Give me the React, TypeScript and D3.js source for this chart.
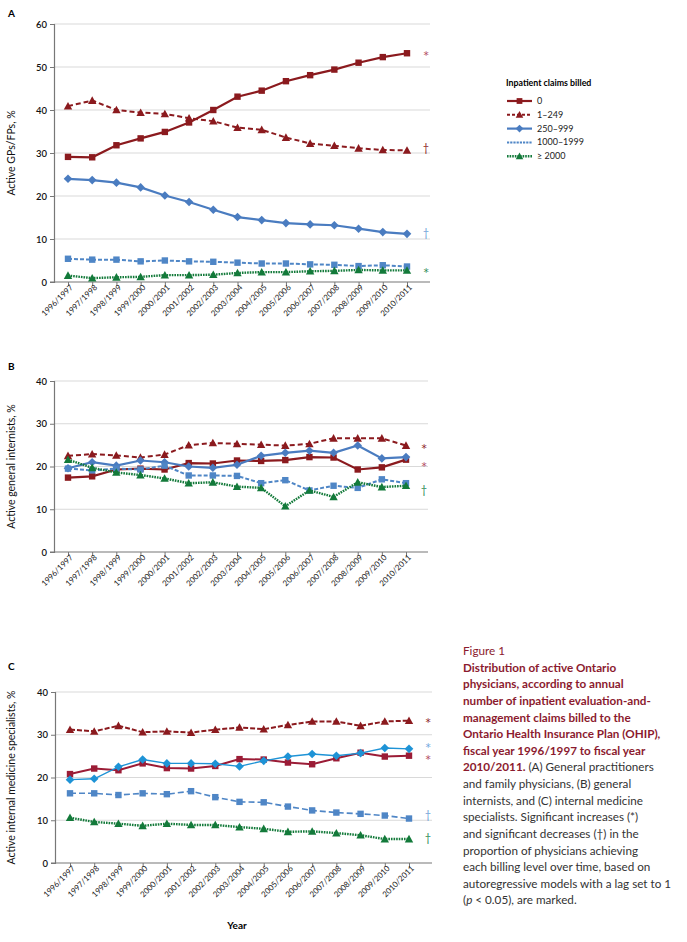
import * as d3 from "d3";
import React, { useEffect, useRef } from "react";

const years = [
  "1996/1997", "1997/1998", "1998/1999", "1999/2000", "2000/2001",
  "2001/2002", "2002/2003", "2003/2004", "2004/2005", "2005/2006",
  "2006/2007", "2007/2008", "2008/2009", "2009/2010", "2010/2011",
];

const seriesNames = ["0", "1–249", "250–999", "1000–1999", "≥ 2000"];

// (A) GPs/FPs
const gp0 = [29.1, 29.0, 31.8, 33.4, 34.9, 37.1, 40.0, 43.1, 44.5, 46.7, 48.1, 49.4, 51.0, 52.3, 53.2];
const gp1to249 = [40.9, 42.2, 40.0, 39.4, 39.1, 38.1, 37.4, 35.9, 35.4, 33.6, 32.2, 31.7, 31.1, 30.7, 30.6];
const gp250to999 = [24.0, 23.7, 23.1, 22.0, 20.1, 18.6, 16.8, 15.1, 14.4, 13.7, 13.4, 13.2, 12.4, 11.6, 11.2];
const gp1000to1999 = [5.4, 5.2, 5.2, 4.8, 5.0, 4.8, 4.7, 4.5, 4.3, 4.3, 4.1, 4.0, 3.7, 3.9, 3.6];
const gp2000plus = [1.5, 0.9, 1.1, 1.2, 1.6, 1.6, 1.7, 2.1, 2.3, 2.3, 2.5, 2.6, 2.8, 2.7, 2.7];

// (B) general internists
const gim0 = [17.4, 17.7, 19.3, 19.5, 19.3, 20.8, 20.7, 21.4, 21.3, 21.5, 22.2, 22.1, 19.3, 19.8, 21.6];
const gim1to249 = [22.5, 22.9, 22.6, 22.1, 22.8, 25.0, 25.5, 25.3, 25.1, 24.9, 25.3, 26.6, 26.6, 26.6, 24.9];
const gim250to999 = [19.6, 21.0, 20.2, 21.4, 21.0, 20.0, 19.7, 20.4, 22.5, 23.2, 23.7, 23.2, 24.9, 21.9, 22.2];
const gim1000to1999 = [19.5, 19.1, 19.5, 19.3, 20.2, 17.9, 17.9, 17.8, 16.1, 16.8, 14.4, 15.5, 15.0, 17.0, 16.1];
const gim2000plus = [21.6, 19.7, 18.6, 18.0, 17.2, 16.1, 16.3, 15.3, 15.0, 10.7, 14.4, 12.9, 16.3, 15.2, 15.5];

// (C) internal medicine specialists
const ims0 = [20.8, 22.1, 21.7, 23.3, 22.2, 22.1, 22.7, 24.3, 24.2, 23.5, 23.1, 24.5, 25.8, 24.9, 25.1];
const ims1to249 = [31.2, 30.8, 32.1, 30.6, 30.8, 30.5, 31.2, 31.7, 31.3, 32.3, 33.1, 33.1, 32.1, 33.1, 33.3];
const ims250to999 = [19.5, 19.7, 22.5, 24.2, 23.3, 23.3, 23.2, 22.6, 23.9, 24.9, 25.5, 25.1, 25.7, 26.9, 26.7];
const ims1000to1999 = [16.3, 16.3, 15.9, 16.3, 16.1, 16.8, 15.4, 14.3, 14.2, 13.2, 12.3, 11.8, 11.5, 11.1, 10.4];
const ims2000plus = [10.6, 9.6, 9.2, 8.7, 9.2, 8.9, 8.9, 8.4, 8.0, 7.3, 7.4, 7.0, 6.5, 5.6, 5.6];

// significance marks: [symbol, y value, series index]
const sigA: [string, number, number][] = [["*", 53.3, 0], ["†", 31.2, 1], ["†", 11.3, 2], ["*", 2.8, 4]];
const sigB: [string, number, number][] = [["*", 24.8, 1], ["*", 20.6, 0], ["†", 14.6, 4]];
const sigC: [string, number, number][] = [["*", 33.4, 1], ["*", 27.7, 2], ["*", 24.7, 0], ["†", 11.3, 3], ["†", 5.9, 4]];

const yTicksA = [0, 10, 20, 30, 40, 50, 60];
const yTicksBC = [0, 10, 20, 30, 40];

const FONT = "Lato, 'Open Sans', sans-serif";

const styleA = [
  { color: "#8b1a1e", dash: null, width: 2.2, marker: "square" },
  { color: "#8b1a1e", dash: "5,3", width: 2, marker: "triangle" },
  { color: "#4a7cc0", dash: null, width: 2.2, marker: "diamond" },
  { color: "#4f86c6", dash: "4,2", width: 2, marker: "square" },
  { color: "#137a3a", dash: "1.6,1", width: 2.4, marker: "triangle" },
];
const styleC = [
  { color: "#9b1c36", dash: null, width: 2, marker: "square" },
  { color: "#8b1a1e", dash: "5,2", width: 2, marker: "triangle" },
  { color: "#1e93d6", dash: null, width: 1.4, marker: "diamond" },
  { color: "#4f86c6", dash: "6,3", width: 1.6, marker: "square" },
  { color: "#137a3a", dash: "1.6,1", width: 2.4, marker: "triangle" },
];
const sigColors = ["#b0485e", "#8b1a1e", "#6f9fd8", "#6f9fd8", "#2b8a55"];

const panels = [
  {
    letter: "A", letterY: 17, yLabel: "Active GPs/FPs, %", yMax: 60, ticks: yTicksA,
    top: 24, bottom: 282, axisX: 54, x0: 68, x1: 407, right: 430,
    series: [gp0, gp1to249, gp250to999, gp1000to1999, gp2000plus], sig: sigA, style: styleA,
  },
  {
    letter: "B", letterY: 370, yLabel: "Active general internists, %", yMax: 40, ticks: yTicksBC,
    top: 381, bottom: 552, axisX: 54, x0: 68, x1: 406, right: 428,
    series: [gim0, gim1to249, gim250to999, gim1000to1999, gim2000plus], sig: sigB, style: styleA,
  },
  {
    letter: "C", letterY: 670, yLabel: "Active internal medicine specialists, %", yMax: 40, ticks: yTicksBC,
    top: 692, bottom: 863, axisX: 55, x0: 70, x1: 409, right: 432,
    series: [ims0, ims1to249, ims250to999, ims1000to1999, ims2000plus], sig: sigC, style: styleC,
  },
];

const captionLines: { parts: [string, string][] }[] = [
  { parts: [["Figure 1", "fig"]] },
  { parts: [["Distribution of active Ontario", "title"]] },
  { parts: [["physicians, according to annual", "title"]] },
  { parts: [["number of inpatient evaluation-and-", "title"]] },
  { parts: [["management claims billed to the", "title"]] },
  { parts: [["Ontario Health Insurance Plan (OHIP),", "title"]] },
  { parts: [["fiscal year 1996/1997 to fiscal year", "title"]] },
  { parts: [["2010/2011.", "title"], [" (A) General practitioners", "body"]] },
  { parts: [["and family physicians, (B) general", "body"]] },
  { parts: [["internists, and (C) internal medicine", "body"]] },
  { parts: [["specialists. Significant increases (*)", "body"]] },
  { parts: [["and significant decreases (†) in the", "body"]] },
  { parts: [["proportion of physicians achieving", "body"]] },
  { parts: [["each billing level over time, based on", "body"]] },
  { parts: [["autoregressive models with a lag set to 1", "body"]] },
  { parts: [["(", "body"], ["p", "italic"], [" < 0.05), are marked.", "body"]] },
];

function drawMarker(g: d3.Selection<SVGGElement, unknown, null, undefined>, kind: string, x: number, y: number, color: string, size = 1) {
  if (kind === "square") {
    const s = 6.4 * size;
    g.append("rect").attr("x", x - s / 2).attr("y", y - s / 2).attr("width", s).attr("height", s).attr("fill", color);
  } else if (kind === "triangle") {
    const s = 4.2 * size;
    g.append("path").attr("d", `M${x},${y - s}L${x + s},${y + s * 0.8}L${x - s},${y + s * 0.8}Z`).attr("fill", color);
  } else if (kind === "diamond") {
    const s = 4.3 * size;
    g.append("path").attr("d", `M${x},${y - s}L${x + s},${y}L${x},${y + s}L${x - s},${y}Z`).attr("fill", color);
  }
}

const App: React.FC = () => {
  const ref = useRef<SVGSVGElement | null>(null);

  useEffect(() => {
    const svg = d3.select(ref.current);
    svg.selectAll("*").remove();

    panels.forEach((p) => {
      const g = svg.append("g");
      const xScale = d3.scalePoint<string>().domain(years).range([p.x0, p.x1]);
      const yScale = d3.scaleLinear().domain([0, p.yMax]).range([p.bottom, p.top]);

      // gridlines
      g.selectAll(".grid")
        .data(p.ticks.filter((t) => t > 0))
        .enter()
        .append("line")
        .attr("x1", p.axisX)
        .attr("x2", p.right)
        .attr("y1", (d) => yScale(d))
        .attr("y2", (d) => yScale(d))
        .attr("stroke", "#d9d9d9")
        .attr("stroke-width", 1);

      // y axis
      const yAxis = g.append("g")
        .attr("transform", `translate(${p.axisX},0)`)
        .call(d3.axisLeft(yScale).tickValues(p.ticks).tickSize(4).tickPadding(3));
      yAxis.select(".domain").attr("stroke", "#777").attr("stroke-width", 1.2);
      yAxis.selectAll(".tick line").attr("stroke", "#777");
      yAxis.selectAll("text")
        .attr("fill", "#111")
        .style("font-family", FONT)
        .style("font-size", "9.5px")
        .style("font-weight", "600");

      // x axis
      const xAxis = g.append("g")
        .attr("transform", `translate(0,${p.bottom})`)
        .call(d3.axisBottom(xScale).tickSize(4).tickSizeOuter(0));
      xAxis.select(".domain").attr("d", `M${p.axisX - 4},0H${p.right}`).attr("stroke", "#777").attr("stroke-width", 1.2);
      xAxis.selectAll(".tick line").attr("stroke", "#777");
      xAxis.selectAll("text")
        .attr("fill", "#222")
        .attr("text-anchor", "end")
        .attr("transform", "translate(3,4) rotate(-45)")
        .attr("dy", "0.35em")
        .attr("y", 0)
        .attr("x", 0)
        .style("font-family", FONT)
        .style("font-size", "8px");

      // series lines + markers
      p.series.forEach((vals, i) => {
        const st = p.style[i];
        const line = d3.line<number>()
          .x((_, j) => xScale(years[j]) as number)
          .y((d) => yScale(d));
        g.append("path")
          .datum(vals)
          .attr("d", line)
          .attr("fill", "none")
          .attr("stroke", st.color)
          .attr("stroke-width", st.width)
          .attr("stroke-dasharray", st.dash);
        const mg = g.append("g");
        vals.forEach((v, j) => drawMarker(mg, st.marker, xScale(years[j]) as number, yScale(v), st.color));
      });

      // significance marks
      p.sig.forEach(([sym, val, si]) => {
        const isStar = sym === "*";
        g.append("text")
          .attr("x", p.right - 4)
          .attr("y", yScale(val) + (isStar ? 6 : 4))
          .attr("text-anchor", "middle")
          .attr("fill", p.letter === "C" && si === 2 ? "#6fa6e0" : sigColors[si])
          .style("font-family", isStar ? "'DejaVu Sans', sans-serif" : FONT)
          .style("font-size", isStar ? "10.5px" : "11px")
          .text(sym);
      });

      // panel letter
      svg.append("text")
        .attr("x", 8)
        .attr("y", p.letterY)
        .style("font-family", FONT)
        .style("font-size", "10px")
        .style("font-weight", "700")
        .text(p.letter);

      // y label
      svg.append("text")
        .attr("transform", `translate(15,${(p.top + p.bottom) / 2}) rotate(-90)`)
        .attr("text-anchor", "middle")
        .style("font-family", FONT)
        .style("font-size", "10.5px")
        .attr("fill", "#111")
        .text(p.yLabel);
    });

    // x title
    svg.append("text")
      .attr("x", 237)
      .attr("y", 929)
      .attr("text-anchor", "middle")
      .style("font-family", FONT)
      .style("font-size", "10px")
      .style("font-weight", "700")
      .text("Year");

    // legend
    const lg = svg.append("g").attr("transform", "translate(506,0)");
    lg.append("text")
      .attr("x", 0)
      .attr("y", 86)
      .style("font-family", FONT)
      .style("font-size", "8.8px")
      .style("font-weight", "700")
      .text("Inpatient claims billed");
    const legendMarkers = ["square", "triangle", "diamond", null, "triangle"];
    seriesNames.forEach((name, i) => {
      const y = 101 + i * 13.8;
      const st = styleA[i];
      lg.append("line")
        .attr("x1", 1).attr("x2", 26).attr("y1", y).attr("y2", y)
        .attr("stroke", st.color)
        .attr("stroke-width", st.width)
        .attr("stroke-dasharray", st.dash ? (i === 3 ? "2.2,1" : st.dash === "5,3" ? "3,2" : st.dash) : null);
      if (legendMarkers[i]) drawMarker(lg as any, legendMarkers[i] as string, 13.5, y, st.color, 0.9);
      lg.append("text")
        .attr("x", 31)
        .attr("y", y + 3)
        .style("font-family", FONT)
        .style("font-size", "9px")
        .attr("fill", "#222")
        .text(name);
    });

    // caption
    const cap = svg.append("text").style("font-family", FONT).style("font-size", "11.7px");
    captionLines.forEach((ln, i) => {
      const t = cap.append("tspan").attr("x", 463).attr("y", 655 + i * 16.63);
      ln.parts.forEach(([txt, kind], k) => {
        const s = k === 0 ? t : cap.append("tspan");
        s.text(txt)
          .attr("fill", kind === "fig" || kind === "title" ? "#8b1a2e" : "#333")
          .style("font-weight", kind === "title" ? "700" : "400")
          .style("font-style", kind === "italic" ? "italic" : "normal");
      });
    });

    return () => {
      svg.selectAll("*").remove();
    };
  }, []);

  return (
    <svg
      ref={ref}
      width={687}
      height={942}
      style={{ position: "absolute", left: 0, top: 0, background: "#fff" }}
    />
  );
};

export default App;
